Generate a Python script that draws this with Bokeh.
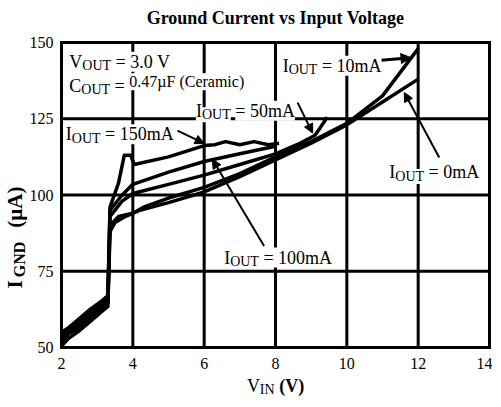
import math
from bokeh.plotting import figure
from bokeh.models import Range1d, Label, Arrow, NormalHead, FixedTicker
from bokeh.embed import file_html
from bokeh.resources import INLINE

FONT = "Liberation Serif"

# ---------------- data ----------------
vin_0mA = [2.0, 2.2, 2.5, 2.8, 3.1, 3.3, 3.36, 3.5, 3.8, 4.2, 5.0, 6.0, 7.0, 8.0, 9.0, 10.0, 11.0, 12.0]
ignd_0mA = [50.5, 53.0, 55.5, 58.5, 61.5, 63.5, 88.0, 91.0, 93.0, 95.0, 97.5, 101.0, 106.0, 111.5, 117.0, 123.0, 130.5, 138.0]

vin_10mA = [2.0, 2.2, 2.5, 2.8, 3.1, 3.3, 3.36, 3.6, 4.0, 4.3, 5.0, 6.0, 7.0, 8.0, 9.0, 10.0, 11.0, 12.0]
ignd_10mA = [51.5, 54.5, 56.5, 59.5, 62.5, 64.5, 90.0, 93.0, 94.0, 96.0, 99.0, 102.5, 107.0, 112.5, 117.5, 123.5, 132.5, 148.0]

vin_50mA = [2.0, 2.2, 2.5, 2.8, 3.1, 3.3, 3.36, 3.7, 4.0, 5.0, 6.0, 7.0, 8.0, 8.7, 9.1, 9.25, 9.45]
ignd_50mA = [52.5, 55.5, 57.5, 60.5, 63.0, 65.0, 93.0, 98.0, 100.5, 103.5, 106.5, 110.0, 113.5, 117.0, 119.5, 122.0, 125.5]

vin_100mA = [2.0, 2.2, 2.5, 2.8, 3.1, 3.3, 3.36, 3.7, 4.0, 5.0, 6.0, 7.0, 8.0]
ignd_100mA = [53.5, 56.0, 58.5, 61.5, 64.0, 66.0, 95.0, 100.0, 103.5, 107.5, 111.0, 113.5, 116.0]

vin_150mA = [2.0, 2.2, 2.5, 2.8, 3.1, 3.3, 3.36, 3.6, 3.76, 3.94, 4.04, 5.0, 6.0, 6.3, 6.6, 7.0, 7.4, 7.8, 8.1]
ignd_150mA = [55.0, 56.5, 59.5, 62.5, 65.0, 67.0, 96.0, 104.0, 113.0, 113.0, 110.0, 112.5, 116.2, 116.5, 117.5, 116.5, 117.5, 116.5, 117.0]

x_ticks = [2, 4, 6, 8, 10, 12, 14]
y_ticks = [50, 75, 100, 125, 150]

# ---------------- layout (frame covers the whole canvas) ----------------
W, H = 492, 399
BOX_L, BOX_R, BOX_T, BOX_B = 61, 489, 42, 347      # canvas pixels of the plot box
PXX = (BOX_R - BOX_L) / (x_ticks[-1] - x_ticks[0])
PXY = (BOX_B - BOX_T) / (y_ticks[-1] - y_ticks[0])
xa = x_ticks[0] - BOX_L / PXX
xb = x_ticks[-1] + (W - BOX_R) / PXX
ya = y_ticks[0] - (H - BOX_B) / PXY
yb = y_ticks[-1] + BOX_T / PXY

p = figure(width=W, height=H, x_range=Range1d(xa, xb), y_range=Range1d(ya, yb),
           output_backend="svg", toolbar_location=None,
           min_border=0, min_border_left=0, min_border_right=0,
           min_border_top=0, min_border_bottom=0)
p.background_fill_color = "white"
p.border_fill_color = "white"
p.outline_line_color = None
p.xgrid.visible = False
p.ygrid.visible = False

# real axes, pinned to the edges of the box
p.xaxis.fixed_location = y_ticks[0]
p.xaxis.bounds = (x_ticks[0], x_ticks[-1])
p.yaxis.fixed_location = x_ticks[0]
p.yaxis.bounds = (y_ticks[0], y_ticks[-1])
for ax, ticks, st in ((p.xaxis[0], x_ticks, 10), (p.yaxis[0], y_ticks, 8)):
    ax.ticker = FixedTicker(ticks=ticks)
    ax.axis_line_color = None
    ax.major_tick_line_color = None
    ax.minor_tick_line_color = None
    ax.major_tick_out = 0
    ax.major_tick_in = 0
    ax.major_label_text_font = FONT
    ax.major_label_text_font_size = "16px"
    ax.major_label_text_color = "black"
    ax.major_label_standoff = st

# grid + box drawn from the tick arrays
nx, ny = len(x_ticks), len(y_ticks)
p.segment(x0=x_ticks, y0=[y_ticks[0]] * nx, x1=x_ticks, y1=[y_ticks[-1]] * nx,
          line_color="black", line_width=3, line_cap="square")
p.segment(x0=[x_ticks[0]] * ny, y0=y_ticks, x1=[x_ticks[-1]] * ny, y1=y_ticks,
          line_color="black", line_width=3, line_cap="square")

# ---------------- curves ----------------
for xs, ys in ((vin_0mA, ignd_0mA), (vin_10mA, ignd_10mA), (vin_50mA, ignd_50mA),
               (vin_100mA, ignd_100mA), (vin_150mA, ignd_150mA)):
    p.line(xs, ys, line_color="black", line_width=3.5, line_join="round")

# ---------------- rich text helper ----------------
REG = {' ': .25, '=': .564, '.': .25, '(': .333, ')': .333, 'V': .722, 'O': .722, 'U': .722,
       'T': .611, 'I': .333, 'C': .667, 'N': .722, 'm': .778, 'A': .722, 'µ': .5, 'F': .556,
       'e': .444, 'r': .333, 'a': .444, 'i': .278, 'c': .444, 'G': .722, 'D': .722}
BOLD = {' ': .25, '(': .333, ')': .333, 'I': .389, 'G': .778, 'N': .722, 'D': .722,
        'µ': .556, 'A': .722, 'V': .722}


def tw(s, size, bold):
    tab = BOLD if bold else REG
    return sum(tab.get(ch, .5) for ch in s) * size


def rich(parts, x, y, angle=0.0, bg=True, center=False, gaps=None):
    gaps = gaps or [0] * len(parts)
    off = 0.0
    if center:
        off = -(sum(tw(s, size, bold) for s, size, bold, _ in parts) + sum(gaps)) / 2
    for (s, size, bold, dy), g in zip(parts, gaps):
        off += g
        lead = len(s) - len(s.lstrip(' '))
        off += lead * tw(' ', size, bold)
        core = s.strip(' ')
        if angle == 0:
            lx, ly = x + off / PXX, y + dy / PXY
        else:
            lx, ly = x - dy / PXX, y + off / PXY
        p.add_layout(Label(x=lx, y=ly, text=core, angle=angle, text_font=FONT,
                           text_font_size=f"{size}px",
                           text_font_style="bold" if bold else "normal",
                           text_color="black", text_baseline="alphabetic", text_align="left",
                           background_fill_color="white" if bg else None))
        off += tw(core, size, bold)
        trail = len(s) - len(s.rstrip(' '))
        off += trail * tw(' ', size, bold)


def iout(label, x, y):
    rich([("I", 18, False, 0), ("OUT", 14, False, -4), (" = " + label, 18, False, 0)], x, y)


def arrow(x0, y0, x1, y1, lw=2, size=9):
    p.add_layout(Arrow(end=NormalHead(size=size, fill_color="black", line_color="black"),
                       x_start=x0, y_start=y0, x_end=x1, y_end=y1,
                       line_color="black", line_width=lw))


# title
p.add_layout(Label(x=(x_ticks[0] + x_ticks[-1]) / 2, y=157.9,
                   text="Ground Current vs Input Voltage", text_font=FONT,
                   text_font_size="18px", text_font_style="bold", text_color="black",
                   text_align="center", text_baseline="alphabetic"))

# conditions box
rich([("V", 18, False, 0), ("OUT", 14, False, -4), (" = 3.0 V", 18, False, 0)], 2.22, 143.7)
rich([("C", 18, False, 0), ("OUT", 14, False, -4), (" = ", 18, False, 0),
      ("0.47µF (Ceramic)", 16, False, 4)], 2.22, 135.8)

# curve labels with arrows
arrow(5.25, 121.1, 6.0, 116.9)
iout("150mA", 2.12, 119.9)
arrow(8.62, 130.3, 9.04, 120.3)
iout("50mA", 5.77, 127.6)
arrow(10.95, 144.2, 11.8, 145.0, lw=3, size=10)
iout("10mA", 8.2, 142.4)
arrow(12.59, 112.3, 11.61, 133.6)
iout("0mA", 11.19, 107.4)
arrow(7.68, 83.3, 6.23, 111.7)
iout("100mA", 6.56, 79.5)

# axis titles
rich([("V", 18, False, 0), ("IN", 14, False, -4), (" (V)", 18, True, 0)],
     (x_ticks[0] + x_ticks[-1]) / 2, 37.4, bg=False, center=True)
rich([("I", 21, True, 0), ("GND", 16, True, -4), ("(µA)", 21, True, 0)],
     0.70, 86.0, angle=math.pi / 2, bg=False, center=True, gaps=[0, 3, 14])

open("out.html", "w").write(file_html(p, INLINE))
